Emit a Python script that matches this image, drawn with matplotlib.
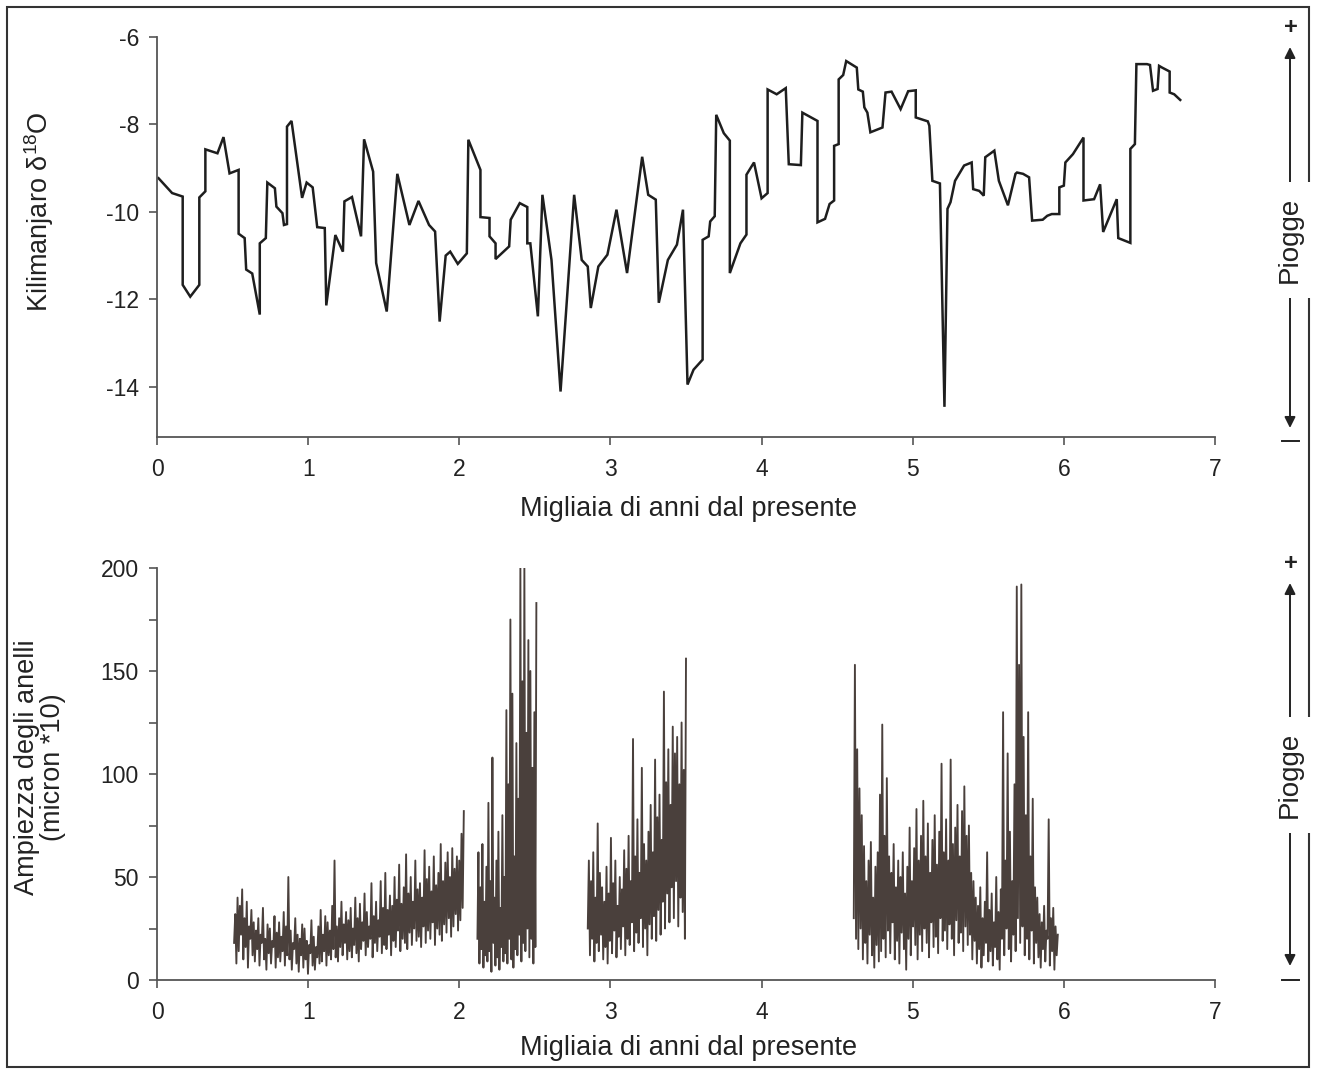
import numpy as np
import matplotlib
matplotlib.use('Agg')
import matplotlib.pyplot as plt
from matplotlib.patches import Rectangle
from matplotlib.lines import Line2D
from matplotlib.ticker import MultipleLocator

plt.rcParams['font.family'] = ['Liberation Sans', 'DejaVu Sans']
plt.rcParams['mathtext.fontset'] = 'custom'
plt.rcParams['mathtext.rm'] = 'Liberation Sans'
plt.rcParams['mathtext.it'] = 'Liberation Sans:italic'
plt.rcParams['axes.unicode_minus'] = False

# Kilimanjaro d18O (ky BP, permil)
kili_age = [0.01, 0.10, 0.17, 0.17, 0.22, 0.28, 0.28, 0.32, 0.32, 0.40, 0.44, 0.48, 0.54, 0.54,
            0.58, 0.59, 0.63, 0.68, 0.68, 0.72, 0.73, 0.78, 0.79, 0.83, 0.84, 0.86, 0.86, 0.89,
            0.96, 0.99, 1.03, 1.06, 1.11, 1.12, 1.18, 1.23, 1.24, 1.29, 1.35, 1.37, 1.43, 1.45,
            1.52, 1.59, 1.67, 1.73, 1.80, 1.84, 1.87, 1.91, 1.94, 1.99, 2.05, 2.06,
            2.14, 2.14, 2.20, 2.20, 2.24, 2.24, 2.33, 2.34, 2.40, 2.45, 2.45, 2.47, 2.52, 2.55,
            2.61, 2.67, 2.76, 2.81, 2.85, 2.87, 2.92, 2.98, 3.04, 3.11, 3.21, 3.25, 3.30, 3.32,
            3.38, 3.44, 3.48, 3.51, 3.55, 3.61, 3.61, 3.65, 3.66, 3.69, 3.70, 3.75, 3.79, 3.79,
            3.86, 3.90, 3.90, 3.95, 4.00, 4.04,
            4.04, 4.10, 4.16, 4.18, 4.26, 4.27, 4.37, 4.37, 4.42, 4.45, 4.48, 4.48, 4.51, 4.51,
            4.54, 4.56, 4.63, 4.64, 4.67, 4.68, 4.70, 4.72, 4.77, 4.80, 4.82, 4.86, 4.92, 4.97,
            5.02, 5.02, 5.10, 5.11, 5.13, 5.18, 5.21, 5.23, 5.25, 5.28, 5.34, 5.39, 5.40, 5.44,
            5.47, 5.48, 5.54, 5.57, 5.63, 5.68, 5.69, 5.73, 5.77, 5.79, 5.86, 5.89, 5.92, 5.97,
            5.97, 6.00, 6.01, 6.06, 6.13, 6.13, 6.20, 6.24, 6.26, 6.35, 6.36, 6.44, 6.44, 6.47,
            6.48, 6.55, 6.57, 6.59, 6.62, 6.63, 6.65, 6.70, 6.70, 6.73, 6.77]
kili_d18o = [-9.23, -9.57, -9.65, -11.67, -11.94, -11.67, -9.67, -9.53, -8.57, -8.66, -8.29, -9.12,
             -9.04, -10.50, -10.60, -11.32, -11.41, -12.35, -10.72, -10.60, -9.33, -9.46, -9.88,
             -10.03, -10.30, -10.28, -8.05, -7.92, -9.68, -9.33, -9.44, -10.35, -10.37, -12.14,
             -10.53, -10.91, -9.76, -9.66, -10.56, -8.34, -9.08, -11.17, -12.28, -9.13, -10.30,
             -9.75, -10.30, -10.45, -12.51, -11.00, -10.91, -11.19, -10.95, -8.35,
             -9.04, -10.12, -10.14, -10.56, -10.72, -11.08, -10.79, -10.18, -9.80, -9.89, -10.72,
             -10.72, -12.39, -9.61, -11.10, -14.11, -9.61, -11.10, -11.25, -12.20, -11.25, -10.98,
             -9.95, -11.40, -8.74, -9.61, -9.72, -12.08, -11.10, -10.75, -9.95, -13.95, -13.61,
             -13.38, -10.64, -10.56, -10.22, -10.10, -7.78, -8.20, -8.37, -11.40, -10.72, -10.52,
             -9.15, -8.87, -9.69, -9.57,
             -7.20, -7.31, -7.17, -8.91, -8.93, -7.73, -7.92, -10.24, -10.16, -9.82, -9.74, -8.49,
             -8.45, -6.97, -6.87, -6.55, -6.70, -7.20, -7.25, -7.61, -7.73, -8.18, -8.11, -8.07,
             -7.27, -7.25, -7.65, -7.24, -7.22, -7.84, -7.93, -8.03, -9.29, -9.35, -14.46, -9.93,
             -9.78, -9.29, -8.94, -8.87, -9.48, -9.52, -9.63, -8.75, -8.60, -9.29, -9.85, -9.13,
             -9.10, -9.13, -9.21, -10.20, -10.18, -10.09, -10.05, -10.05, -9.44, -9.40, -8.87,
             -8.68, -8.30, -9.74, -9.71, -9.37, -10.46, -9.71, -10.60, -10.71, -8.56, -8.45, -6.62,
             -6.62, -6.64, -7.23, -7.19, -6.66, -6.70, -6.79, -7.27, -7.31, -7.44]

# tree ring width segments (micron*10): start, end (ky BP) and values
ring_a_span = (0.51, 2.03)
ring_a = [18, 32, 8, 40, 14, 36, 22, 44, 10, 30, 16, 38, 6, 26, 20, 34, 12, 28, 9, 24,
          15, 30, 7, 22, 18, 35, 10, 20, 5, 27, 13, 25, 8, 19, 16, 31, 6, 23, 11, 28,
          9, 21, 14, 33, 7, 26, 12, 50, 10, 24, 5, 18, 15, 30, 8, 22, 4, 20, 12, 27,
          6, 25, 10, 19, 3, 17, 13, 29, 7, 21, 5, 16, 11, 26, 8, 34, 9, 22, 14, 31,
          7, 28, 12, 24, 10, 36, 15, 58, 11, 26, 9, 30, 16, 38, 12, 27, 18, 33, 10, 29,
          14, 35, 11, 25, 17, 40, 13, 30, 9, 37, 15, 28, 19, 42, 12, 33, 16, 26, 20, 47,
          11, 31, 18, 38, 14, 29, 21, 48, 13, 35, 17, 52, 15, 34, 22, 41, 12, 36, 19, 50,
          16, 39, 24, 56, 14, 37, 20, 45, 18, 61, 15, 42, 23, 50, 17, 38, 25, 58, 19, 44,
          21, 47, 16, 40, 26, 63, 18, 49, 24, 55, 20, 43, 28, 60, 17, 46, 25, 52, 22, 66,
          19, 48, 27, 57, 23, 62, 30, 50, 21, 64, 26, 54, 32, 60, 24, 58, 29, 71, 35, 82]
ring_b_span = (2.12, 2.51)
ring_b = [20, 62, 8, 45, 15, 66, 6, 38, 12, 55, 9, 86, 14, 48, 4, 108, 18, 40, 7, 58,
          11, 72, 5, 35, 16, 80, 9, 50, 13, 131, 8, 95, 20, 175, 10, 139, 6, 60, 15, 115,
          12, 88, 22, 200, 9, 145, 18, 200, 14, 120, 25, 165, 11, 150, 20, 103, 8, 130, 16, 183]
ring_c_span = (2.85, 3.50)
ring_c = [25, 58, 12, 48, 20, 62, 9, 40, 18, 76, 14, 52, 22, 45, 10, 38, 16, 55, 8, 42,
          19, 69, 13, 47, 24, 58, 11, 36, 21, 50, 15, 44, 26, 63, 12, 54, 20, 70, 17, 48,
          28, 117, 14, 60, 23, 78, 18, 52, 30, 103, 16, 66, 25, 58, 12, 72, 27, 85, 20, 62,
          31, 107, 19, 79, 34, 90, 22, 68, 38, 140, 25, 96, 42, 112, 28, 85, 45, 123, 30, 110,
          48, 118, 26, 95, 40, 125, 33, 102, 20, 156]
ring_d_span = (4.61, 5.96)
ring_d = [30, 153, 20, 112, 15, 93, 25, 80, 10, 65, 18, 48, 8, 58, 22, 67, 12, 40, 6, 55,
          17, 62, 9, 90, 14, 124, 20, 70, 11, 98, 24, 60, 13, 52, 28, 66, 10, 45, 19, 58,
          8, 50, 23, 62, 15, 42, 5, 55, 20, 74, 12, 48, 26, 64, 17, 83, 10, 58, 22, 70,
          14, 87, 25, 60, 18, 76, 11, 52, 28, 68, 16, 80, 21, 56, 13, 72, 30, 105, 19, 62,
          24, 78, 15, 58, 27, 107, 20, 66, 12, 74, 29, 85, 18, 60, 23, 82, 14, 94, 26, 70,
          17, 75, 22, 52, 10, 48, 19, 40, 8, 36, 15, 45, 6, 30, 12, 38, 18, 62, 9, 34,
          14, 42, 7, 28, 16, 50, 10, 33, 5, 44, 20, 130, 12, 58, 25, 110, 15, 72, 9, 48,
          22, 95, 14, 191, 30, 153, 18, 192, 26, 118, 12, 80, 20, 130, 10, 60, 24, 88, 8, 45,
          18, 40, 11, 32, 6, 28, 15, 36, 9, 24, 20, 78, 7, 30, 14, 35, 5, 26, 12, 22]

W, H = 1317, 1071
fig = plt.figure(figsize=(W / 100, H / 100), dpi=100)

spine_c = '#555555'
text_c = '#222222'


def style(ax):
    for s in ['top', 'right']:
        ax.spines[s].set_visible(False)
    for s in ['left', 'bottom']:
        ax.spines[s].set_color(spine_c)
        ax.spines[s].set_linewidth(1.3)
    ax.tick_params(which='both', direction='out', color=spine_c, width=1.2,
                   labelsize=16.5, labelcolor=text_c)
    ax.tick_params(which='major', length=6)
    ax.tick_params(which='minor', length=6)
    ax.tick_params(axis='x', pad=9)
    ax.tick_params(axis='y', pad=7)
    ax.set_xlim(0, 7)
    ax.set_xticks(range(8))


# top panel
ax1 = fig.add_axes([157 / W, 1 - 437 / H, 1058 / W, 400 / H])
ax1.plot(kili_age, kili_d18o, color='#1e1e1e', lw=1.8, solid_joinstyle='miter')
ax1.set_ylim(-15.15, -6)
ax1.set_yticks([-6, -8, -10, -12, -14])
style(ax1)
ax1.set_xlabel('Migliaia di anni dal presente', fontsize=19.5, color=text_c)
ax1.xaxis.set_label_coords(0.502, -0.148)
ax1.set_ylabel('Kilimanjaro δ$^{18}$O', fontsize=19.5, color=text_c)
ax1.yaxis.set_label_coords(-0.095, 0.5625)

# bottom panel
ax2 = fig.add_axes([157 / W, 1 - 980 / H, 1058 / W, 412 / H])
for span, vals in [(ring_a_span, ring_a), (ring_b_span, ring_b),
                   (ring_c_span, ring_c), (ring_d_span, ring_d)]:
    xs = np.linspace(span[0], span[1], len(vals))
    ax2.plot(xs, vals, color='#4a403c', lw=1.35)
ax2.set_ylim(0, 200)
ax2.set_yticks([0, 50, 100, 150, 200])
ax2.yaxis.set_minor_locator(MultipleLocator(25))
style(ax2)
ax2.set_xlabel('Migliaia di anni dal presente', fontsize=19.5, color=text_c)
ax2.xaxis.set_label_coords(0.502, -0.134)
ax2.set_ylabel('Ampiezza degli anelli\n(micron *10)', fontsize=19.5, color=text_c,
               linespacing=1.0)
ax2.yaxis.set_label_coords(-0.086, 0.516)

# rain arrows on the right
ax_x = 1290 / W
for plus_y, top_y, bot_y, minus_y, mid_y in [(27, 47, 428, 441, 240),
                                             (563, 583, 966, 980, 775)]:
    fig.text(ax_x + 0.001, 1 - plus_y / H, '+', fontsize=17, ha='center', va='center',
             color=text_c, fontweight='bold')
    fig.add_artist(Line2D([ax_x - 8 / W, ax_x + 9 / W], [1 - minus_y / H] * 2,
                          color=text_c, lw=1.4, transform=fig.transFigure))
    ax1.annotate('', xy=(ax_x, 1 - top_y / H), xytext=(ax_x, 1 - bot_y / H),
                 xycoords='figure fraction', textcoords='figure fraction',
                 arrowprops=dict(arrowstyle='<|-|>', color=text_c, lw=1.4,
                                 mutation_scale=16, shrinkA=0, shrinkB=0))
    fig.text(ax_x, 1 - mid_y / H, 'Piogge', rotation=90, fontsize=20, ha='center',
             va='center', color=text_c,
             bbox=dict(facecolor='white', edgecolor='none', pad=11))

# frame
fig.add_artist(Rectangle((7 / W, 4 / H), 1302 / W, 1060 / H, fill=False,
                         edgecolor='#333333', lw=1.5, transform=fig.transFigure))

fig.savefig('out.png', dpi=100, facecolor='white')
